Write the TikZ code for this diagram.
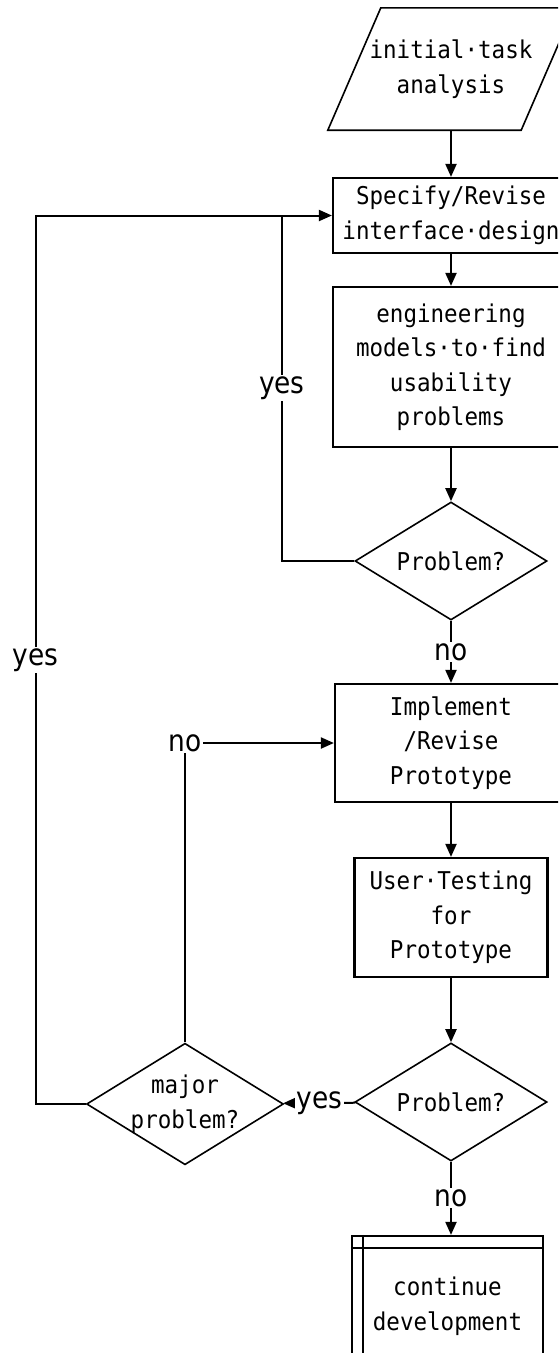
\documentclass[tikz,border=0pt]{standalone}
\usepackage{fontspec}
\usetikzlibrary{shapes.geometric,arrows.meta}
\newfontfamily\boxfont[FakeStretch=0.92]{DejaVu Sans Mono}
\newfontfamily\answerfont[FakeStretch=0.88]{DejaVu Sans}
\tikzset{
  stepbox/.style={draw, line width=2.2pt, align=center, inner sep=0pt,
    font=\boxfont\fontsize{24.5}{34.5}\selectfont},
  decision/.style={draw, diamond, line width=1.6pt, aspect=1.62, align=center,
    inner sep=0pt, minimum width=192pt, minimum height=118pt,
    font=\boxfont\fontsize{24.5}{34.5}\selectfont},
  iotext/.style={align=center, inner sep=0pt, minimum width=193pt, minimum height=122pt,
    font=\boxfont\fontsize{24.5}{34.5}\selectfont},
  answer/.style={fill=white, inner sep=1.5pt, font=\answerfont\fontsize{30}{32}\selectfont},
  flow/.style={line width=2pt, -{Triangle[length=13pt,width=11pt]}},
  wire/.style={line width=2pt}
}

\begin{document}
\begin{tikzpicture}[x=1pt,y=-1pt]
			%%%%% START %%%%%
			\useasboundingbox (0,0) rectangle (558,1353);
			\clip (0,0) rectangle (558,1353);
			
			% main column
			\node[iotext] (task) at (451,69) {initial·task\\analysis};
			\draw[line width=1.6pt] ([xshift=-26.5pt]task.south west) -- ([xshift=26.5pt]task.north west)
			  -- ([xshift=26.5pt]task.north east) -- ([xshift=-26.5pt]task.south east) -- cycle;
			\node[stepbox, minimum width=236pt, minimum height=75pt] (spec) at (451,215.5) {Specify/Revise\\interface·design};
			\node[stepbox, minimum width=236pt, minimum height=160pt] (eng) at (451,367) {engineering\\models·to·find\\usability\\problems};
			\node[decision] (prob1) at (451,561) {Problem?};
			\node[stepbox, minimum width=232pt, minimum height=118pt] (impl) at (451,743) {Implement\\/Revise\\Prototype};
			\node[stepbox, minimum width=193pt, minimum height=119pt] (test) at (451,917.5) {User·Testing\\for\\Prototype};
			\node[decision] (prob2) at (451,1102) {Problem?};
			\node[stepbox, minimum width=191pt, minimum height=140pt] (cont) at (447.5,1306) {continue\\development};
			\draw[line width=2pt] ([yshift=-13pt]cont.north west) -- ([yshift=-13pt]cont.north east);
			\draw[line width=2pt] ([xshift=12pt]cont.north west) -- ([xshift=12pt]cont.south west);
			
			% side decision
			\node[decision, minimum width=190pt, minimum height=117pt, inner xsep=-3pt] (major) at (185,1104) {major\\problem?};
			
			% connectors
			\draw[flow] (task.south) -- (spec.north);
			\draw[flow] (spec) -- (eng);
			\draw[flow] (eng) -- (prob1);
			\draw[flow] (prob1) -- node[answer] {no} (impl);
			\draw[flow] (impl) -- (test);
			\draw[flow] (test) -- (prob2);
			\draw[flow] (prob2.south) -- node[answer] {no} (prob2.south |- cont.north);
			\draw[flow] (prob2) -- node[answer] {yes} (major);
			\draw[flow] (major.north) |- node[answer, pos=0.5] {no} (impl.west);
			\draw[flow] (major.west) -- ++(-50,0) |- node[answer, pos=0.25] {yes} (spec.west);
			\draw[wire] (prob1.west) -| node[answer, pos=0.75] {yes} ([xshift=-50pt]spec.west);
			
			%%%%% END %%%%%
\end{tikzpicture}
\end{document}
